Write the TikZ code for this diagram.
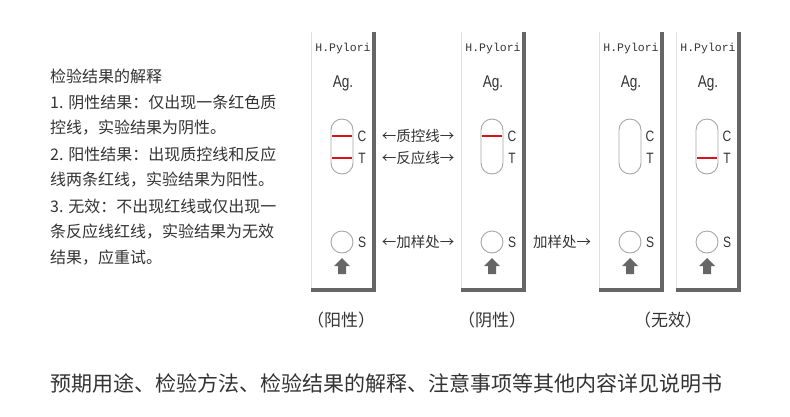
\documentclass[tikz,border=0pt]{standalone}
\usepackage{fontspec}
\setmainfont{Noto Sans CJK SC}
\newfontfamily\latinfont[FakeStretch=0.8]{Liberation Sans}
\newfontfamily\monofont{Liberation Mono}
\usepackage{tikz}
\definecolor{txt}{HTML}{333333}
\definecolor{rim}{HTML}{666666}
\definecolor{redline}{HTML}{D7141E}
\tikzset{
  txtline/.style={anchor=west,inner sep=0pt,text=txt,font=\fontsize{16}{18}\selectfont},
  lbl/.style={inner sep=0pt,text=txt,font=\fontsize{14.5}{16}\selectfont},
  pill/.style={draw=gray!70,line width=0.9pt,rounded corners=11pt},
  well/.style={draw=gray!70,line width=0.9pt,circle,minimum size=22pt,inner sep=0pt},
}
\begin{document}
\begin{tikzpicture}[x=1pt,y=-1pt]
  \useasboundingbox (0,0) rectangle (790,416);
  % left notes
  \node[txtline] (t0) at (50,76) {检验结果的解释};
  \node[txtline] (t1) at (50,102) {1. 阴性结果：仅出现一条红色质};
  \node[txtline] (t2) at (50,128) {控线，实验结果为阴性。};
  \node[txtline] (t3) at (50,154) {2. 阳性结果：出现质控线和反应};
  \node[txtline] (t4) at (50,180) {线两条红线，实验结果为阳性。};
  \node[txtline] (t5) at (50,206) {3. 无效：不出现红线或仅出现一};
  \node[txtline] (t6) at (50,232) {条反应线红线，实验结果为无效};
  \node[txtline] (t7) at (50,258) {结果，应重试。};
  % strips: right edge / show C / show T
  \foreach \r/\c/\t [count=\i] in {374/1/1,524/1/0,662/0/0,739/0/1}{
    \draw[gray!25,line width=0.8pt] (\r-63,32) -- (\r-63,288);
    \draw[rim,line width=3.5pt] (\r,32) -- (\r,290) -- (\r-63,290);
    \node[lbl,font=\fontsize{11.5}{12}\monofont] (hp\i) at (\r-31,49) {H.Pylori};
    \node[lbl,font=\fontsize{17}{18}\latinfont] (ag\i) at (\r-31,83) {Ag.};
    \draw[pill] (\r-43,119) rectangle (\r-21,174);
    \ifnum\c=1 \draw[redline,line width=1.3pt] (\r-42,136) -- (\r-22,136); \fi
    \ifnum\t=1 \draw[redline,line width=1.3pt] (\r-42,158) -- (\r-22,158); \fi
    \node[lbl,font=\fontsize{15}{16}\latinfont] (c\i) at (\r-12,136) {C};
    \node[lbl,font=\fontsize{15}{16}\latinfont] (tt\i) at (\r-12,158) {T};
    \node[well] (w\i) at (\r-32,242) {};
    \node[lbl,font=\fontsize{15}{16}\latinfont] (s\i) at (\r-12,242) {S};
    \fill[rim] (\r-32,258) -- (\r-40,266) -- (\r-36,266) -- (\r-36,274)
      -- (\r-28,274) -- (\r-28,266) -- (\r-24,266) -- cycle;
  }
  % pointer labels
  \node[lbl] (qc) at (418,136) {←质控线→};
  \node[lbl] (rx) at (418,158) {←反应线→};
  \node[lbl] (sp) at (418,242) {←加样处→};
  \node[lbl] (sp2) at (562,242) {加样处→};
  % result names
  \node[lbl,font=\fontsize{17}{18}\selectfont] (pos) at (341,320) {（阳性）};
  \node[lbl,font=\fontsize{17}{18}\selectfont] (neg) at (492,320) {（阴性）};
  \node[lbl,font=\fontsize{17}{18}\selectfont] (inv) at (668,320) {（无效）};
  % footer
  \node[txtline,font=\fontsize{21}{23}\selectfont] (foot) at (50,383)
    {预期用途、检验方法、检验结果的解释、注意事项等其他内容详见说明书};
\end{tikzpicture}
\end{document}
